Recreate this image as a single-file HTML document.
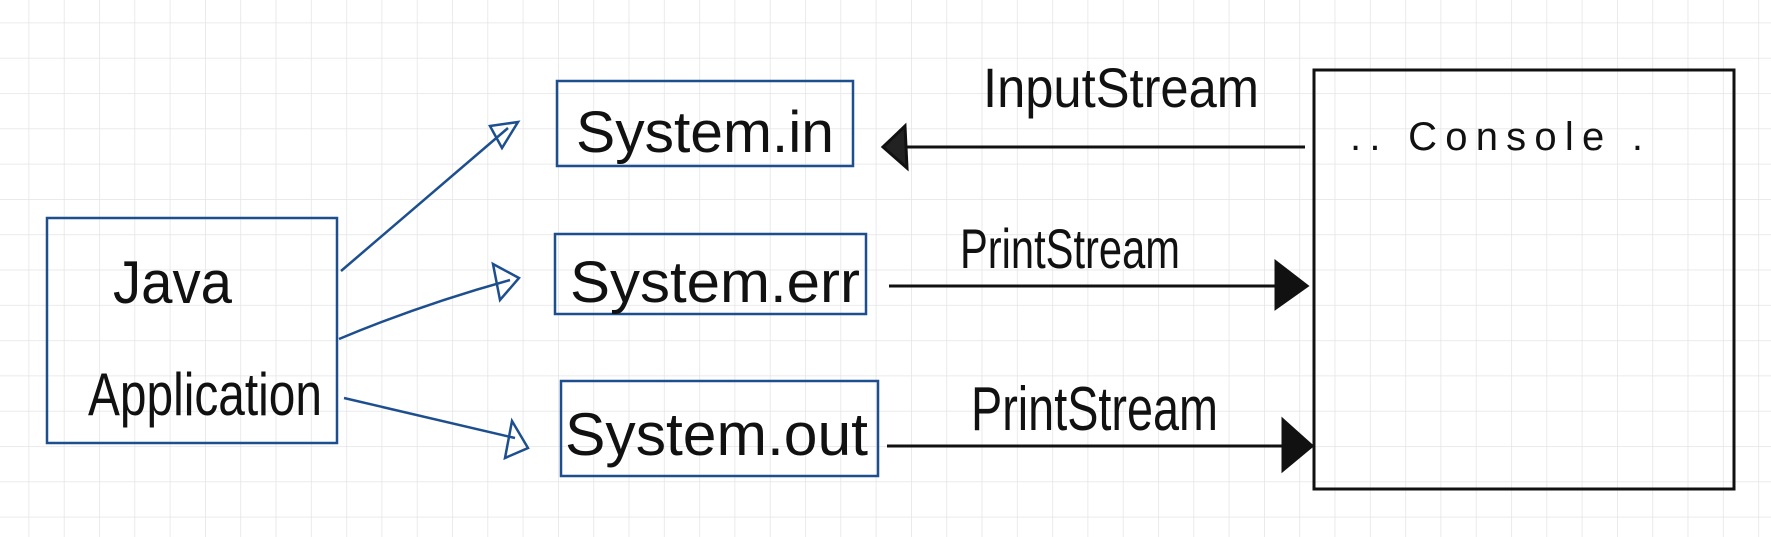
<!DOCTYPE html>
<html><head><meta charset="utf-8"><style>
html,body{margin:0;padding:0;background:#fff;}
svg{display:block;}
text{font-family:"Liberation Sans Narrow","Liberation Sans",sans-serif;fill:#111;font-weight:300;}
</style></head><body>
<svg width="1771" height="537" viewBox="0 0 1771 537" xmlns="http://www.w3.org/2000/svg">
<defs>
<pattern id="g" x="28.5" y="22.5" width="35.3" height="35.3" patternUnits="userSpaceOnUse">
<path d="M0 0 V35.3 M0 0 H35.3" stroke="#e4e4e4" stroke-width="1.5" fill="none"/>
</pattern>
</defs>
<rect width="1771" height="537" fill="url(#g)"/>
<g fill="none" stroke="#1d4f8f" stroke-width="2.5">
<rect x="47" y="218" width="290" height="225"/>
<rect x="557" y="81" width="296" height="85"/>
<rect x="555" y="234" width="311" height="80"/>
<rect x="561" y="381" width="317" height="95"/>
<path d="M341 271 L508 128"/>
<path d="M339 339 Q420 305 510 280"/>
<path d="M344 398 L515 438"/>
<path d="M490 126 L518 122 L502 148 Z"/>
<path d="M493 264 L519 278 L500 300 Z"/>
<path d="M512 421 L528 448 L505 458 Z"/>
</g>
<rect x="1314" y="70" width="420" height="419" fill="none" stroke="#111" stroke-width="3"/>
<g stroke="#111" stroke-width="3" fill="#111">
<path d="M1305 147 L895 147"/>
<path d="M883 147 L905 126 L907 168 Z" fill="#222"/>
<path d="M889 286 L1280 286"/>
<path d="M1276 262 L1307 286 L1276 308 Z"/>
<path d="M887 446 L1285 446"/>
<path d="M1283 420 L1312 446 L1283 470 Z"/>
</g>
<text x="113" y="303" font-size="60" textLength="119" lengthAdjust="spacingAndGlyphs">Java</text>
<text x="88" y="415" font-size="60" textLength="234" lengthAdjust="spacingAndGlyphs">Application</text>
<text x="576" y="152" font-size="58" textLength="258" lengthAdjust="spacingAndGlyphs">System.in</text>
<text x="570" y="302" font-size="58" textLength="290" lengthAdjust="spacingAndGlyphs">System.err</text>
<text x="565" y="455" font-size="60" textLength="303" lengthAdjust="spacingAndGlyphs">System.out</text>
<text x="983" y="107" font-size="56" textLength="276" lengthAdjust="spacingAndGlyphs">InputStream</text>
<text x="960" y="268" font-size="56" textLength="220" lengthAdjust="spacingAndGlyphs">PrintStream</text>
<text x="971" y="430" font-size="62" textLength="247" lengthAdjust="spacingAndGlyphs">PrintStream</text>
<text x="1350" y="150" font-size="40" textLength="293" lengthAdjust="spacing">..   Console   .</text>
</svg>
</body></html>
